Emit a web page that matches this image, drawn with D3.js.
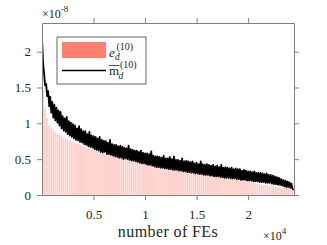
<!DOCTYPE html>
<html lang="en">
<head>
<meta charset="UTF-8">
<title>Error vs number of FEs</title>
<script src="https://d3js.org/d3.v7.min.js"></script>
<style>
  body { margin: 0; background: #fff; }
</style>
</head>
<body>
<div id="chart"></div>
<script>
// values in units of 1e-8

// e_d^(10) (bars), one bar per 200 FEs
const barStep = 200;
const errVals = [
  1.48, 1.22, 1.07, 0.98, 0.94, 0.91, 0.88, 0.86, 0.84, 0.82,
  0.80, 0.79, 0.77, 0.76, 0.74, 0.73, 0.72, 0.71, 0.70, 0.69,
  0.67, 0.66, 0.65, 0.64, 0.63, 0.62, 0.61, 0.60, 0.60, 0.59,
  0.58, 0.57, 0.56, 0.56, 0.55, 0.54, 0.53, 0.53, 0.52, 0.51,
  0.51, 0.50, 0.49, 0.49, 0.48, 0.47, 0.47, 0.46, 0.46, 0.45,
  0.44, 0.44, 0.43, 0.43, 0.42, 0.41, 0.41, 0.40, 0.40, 0.39,
  0.39, 0.38, 0.38, 0.37, 0.36, 0.36, 0.35, 0.35, 0.34, 0.34,
  0.33, 0.32, 0.32, 0.31, 0.31, 0.30, 0.30, 0.29, 0.29, 0.28,
  0.28, 0.27, 0.27, 0.26, 0.26, 0.25, 0.25, 0.24, 0.24, 0.23,
  0.23, 0.22, 0.22, 0.21, 0.21, 0.20, 0.20, 0.19, 0.19, 0.18,
  0.18, 0.17, 0.17, 0.16, 0.16, 0.15, 0.15, 0.14, 0.14, 0.13,
  0.13, 0.13, 0.12, 0.12, 0.11, 0.11, 0.10, 0.10, 0.10, 0.09,
  0.09, 0.08, 0.08
];

// m-bar_d^(10) (noisy line), one sample per 100 FEs
const lineStep = 100;
const meanVals = [
  2.20, 1.85, 1.70, 1.53, 1.55, 1.38, 1.45, 1.24, 1.37, 1.15,
  1.30, 1.08, 1.26, 1.04, 1.22, 1.01, 1.18, 0.97, 1.16, 0.93,
  1.10, 0.90, 1.07, 0.88, 1.09, 0.85, 1.03, 0.83, 1.01, 0.81,
  0.99, 0.79, 0.97, 0.77, 0.93, 0.76, 0.96, 0.74, 0.92, 0.73,
  0.89, 0.71, 0.89, 0.70, 0.85, 0.68, 0.88, 0.67, 0.83, 0.66,
  0.82, 0.64, 0.81, 0.63, 0.79, 0.62, 0.81, 0.60, 0.77, 0.59,
  0.76, 0.60, 0.75, 0.57, 0.73, 0.57, 0.77, 0.56, 0.71, 0.55,
  0.70, 0.54, 0.70, 0.53, 0.68, 0.52, 0.69, 0.52, 0.67, 0.50,
  0.66, 0.51, 0.65, 0.50, 0.69, 0.49, 0.64, 0.48, 0.63, 0.48,
  0.62, 0.47, 0.62, 0.46, 0.60, 0.45, 0.62, 0.44, 0.59, 0.44,
  0.58, 0.43, 0.58, 0.42, 0.57, 0.42, 0.61, 0.41, 0.55, 0.40,
  0.54, 0.39, 0.54, 0.39, 0.53, 0.38, 0.52, 0.38, 0.55, 0.37,
  0.51, 0.37, 0.51, 0.36, 0.53, 0.36, 0.50, 0.35, 0.54, 0.35,
  0.49, 0.35, 0.49, 0.34, 0.48, 0.34, 0.51, 0.33, 0.47, 0.33,
  0.48, 0.32, 0.47, 0.32, 0.46, 0.31, 0.47, 0.31, 0.44, 0.30,
  0.45, 0.30, 0.43, 0.29, 0.47, 0.29, 0.43, 0.28, 0.42, 0.28,
  0.43, 0.28, 0.42, 0.27, 0.41, 0.27, 0.42, 0.26, 0.40, 0.26,
  0.41, 0.26, 0.39, 0.25, 0.42, 0.25, 0.38, 0.24, 0.39, 0.24,
  0.38, 0.24, 0.37, 0.23, 0.38, 0.23, 0.36, 0.23, 0.37, 0.22,
  0.36, 0.22, 0.36, 0.21, 0.34, 0.21, 0.35, 0.21, 0.34, 0.20,
  0.33, 0.20, 0.33, 0.20, 0.32, 0.19, 0.33, 0.19, 0.31, 0.19,
  0.31, 0.18, 0.31, 0.18, 0.30, 0.18, 0.29, 0.17, 0.30, 0.17,
  0.28, 0.17, 0.28, 0.16, 0.27, 0.15, 0.26, 0.15, 0.25, 0.14,
  0.24, 0.14, 0.22, 0.13, 0.21, 0.12, 0.20, 0.11, 0.19, 0.11,
  0.18, 0.10, 0.16, 0.09, 0.07
];

const xTicks = [5000, 10000, 15000, 20000];
const xTickLabels = ["0.5", "1", "1.5", "2"];
const yTicks = [0, 0.5, 1, 1.5, 2];
const yTickLabels = ["0", "0.5", "1", "1.5", "2"];

const width = 327, height = 245;
const plotLeft = 42, plotRight = 294, plotTop = 23, plotBottom = 195;
const axisColor = "#808080", textColor = "#262626";
const serif = '"Liberation Serif", "Times New Roman", serif';

const x = d3.scaleLinear().domain([0, 24450]).range([plotLeft, plotRight]);
const y = d3.scaleLinear().domain([0, 2.4]).range([plotBottom, plotTop]);

const svg = d3.select("#chart").append("svg")
    .attr("width", width)
    .attr("height", height)
    .attr("font-family", serif);

svg.append("clipPath").attr("id", "plot-clip")
  .append("rect")
    .attr("x", plotLeft).attr("y", plotTop)
    .attr("width", plotRight - plotLeft).attr("height", plotBottom - plotTop);

const plot = svg.append("g").attr("clip-path", "url(#plot-clip)");

// bars
plot.selectAll(".bar")
  .data(errVals)
  .enter().append("rect")
    .attr("class", "bar")
    .attr("x", (d, i) => x(i * barStep))
    .attr("width", (d, i) => x((i + 1) * barStep) - x(i * barStep) - 0.2)
    .attr("y", d => y(d))
    .attr("height", d => y(0) - y(d))
    .attr("fill", "#fdd0cc");

// line
plot.append("path")
    .datum(meanVals)
    .attr("fill", "none")
    .attr("stroke", "#000")
    .attr("stroke-width", 1.8)
    .attr("stroke-linejoin", "round")
    .attr("d", d3.line()
        .x((d, i) => x(i * lineStep))
        .y(d => y(d)));

// axes
function styleAxis(g) {
  g.attr("font-family", null);
  g.select(".domain").attr("stroke", axisColor);
  g.selectAll(".tick line").attr("stroke", axisColor);
  g.selectAll(".tick text").attr("fill", textColor);
}

svg.append("g")
    .attr("transform", `translate(0,${plotBottom})`)
    .call(d3.axisBottom(x).tickValues(xTicks)
        .tickFormat((d, i) => xTickLabels[i])
        .tickSize(5).tickSizeOuter(0).tickPadding(10))
    .attr("font-size", 13)
    .call(styleAxis);

svg.append("g")
    .attr("transform", `translate(${plotLeft},0)`)
    .call(d3.axisLeft(y).tickValues(yTicks)
        .tickFormat((d, i) => yTickLabels[i])
        .tickSize(5).tickSizeOuter(0).tickPadding(6))
    .attr("font-size", 13)
    .call(styleAxis);

svg.append("g")
    .attr("transform", `translate(0,${plotTop})`)
    .call(d3.axisTop(x).tickValues(xTicks).tickFormat("")
        .tickSize(5).tickSizeOuter(0))
    .call(styleAxis);

svg.append("g")
    .attr("transform", `translate(${plotRight},0)`)
    .call(d3.axisRight(y).tickValues(yTicks).tickFormat("")
        .tickSize(5).tickSizeOuter(0))
    .call(styleAxis);

// exponent labels
const expY = svg.append("text")
    .attr("x", 42).attr("y", 18)
    .attr("font-size", 12).attr("fill", textColor)
    .text("\u00d710");
expY.append("tspan").attr("dy", -6).attr("font-size", 9).text("-8");

const expX = svg.append("text")
    .attr("x", 263).attr("y", 240)
    .attr("font-size", 12).attr("fill", textColor)
    .text("\u00d710");
expX.append("tspan").attr("dy", -6).attr("font-size", 9).text("4");

// x label
svg.append("text")
    .attr("x", (plotLeft + plotRight) / 2).attr("y", 237)
    .attr("text-anchor", "middle")
    .attr("font-size", 16).attr("letter-spacing", 0.4).attr("fill", textColor)
    .text("number of FEs");

// legend
const lg = svg.append("g");
lg.append("rect")
    .attr("x", 57).attr("y", 37).attr("width", 89).attr("height", 47)
    .attr("fill", "#fff").attr("stroke", textColor).attr("stroke-width", 0.7);
lg.append("rect")
    .attr("x", 62).attr("y", 42).attr("width", 44).attr("height", 16)
    .attr("fill", "#fa8072");
lg.append("line")
    .attr("x1", 62).attr("x2", 106).attr("y1", 70.5).attr("y2", 70.5)
    .attr("stroke", "#000").attr("stroke-width", 1.5);

lg.append("text").attr("x", 109).attr("y", 56.5)
    .attr("font-size", 13).attr("font-style", "italic").attr("fill", textColor).text("e");
lg.append("text").attr("x", 115).attr("y", 60)
    .attr("font-size", 9.5).attr("font-style", "italic").attr("fill", textColor).text("d");
lg.append("text").attr("x", 116.5).attr("y", 49.5)
    .attr("font-size", 10).attr("fill", textColor).text("(10)");

lg.append("text").attr("x", 109).attr("y", 75)
    .attr("font-size", 13).attr("fill", textColor).text("m");
lg.append("line")
    .attr("x1", 109).attr("x2", 119.5).attr("y1", 65.5).attr("y2", 65.5)
    .attr("stroke", textColor).attr("stroke-width", 0.8);
lg.append("text").attr("x", 118.5).attr("y", 78.5)
    .attr("font-size", 9.5).attr("font-style", "italic").attr("fill", textColor).text("d");
lg.append("text").attr("x", 120).attr("y", 67.5)
    .attr("font-size", 10).attr("fill", textColor).text("(10)");
</script>
</body>
</html>
